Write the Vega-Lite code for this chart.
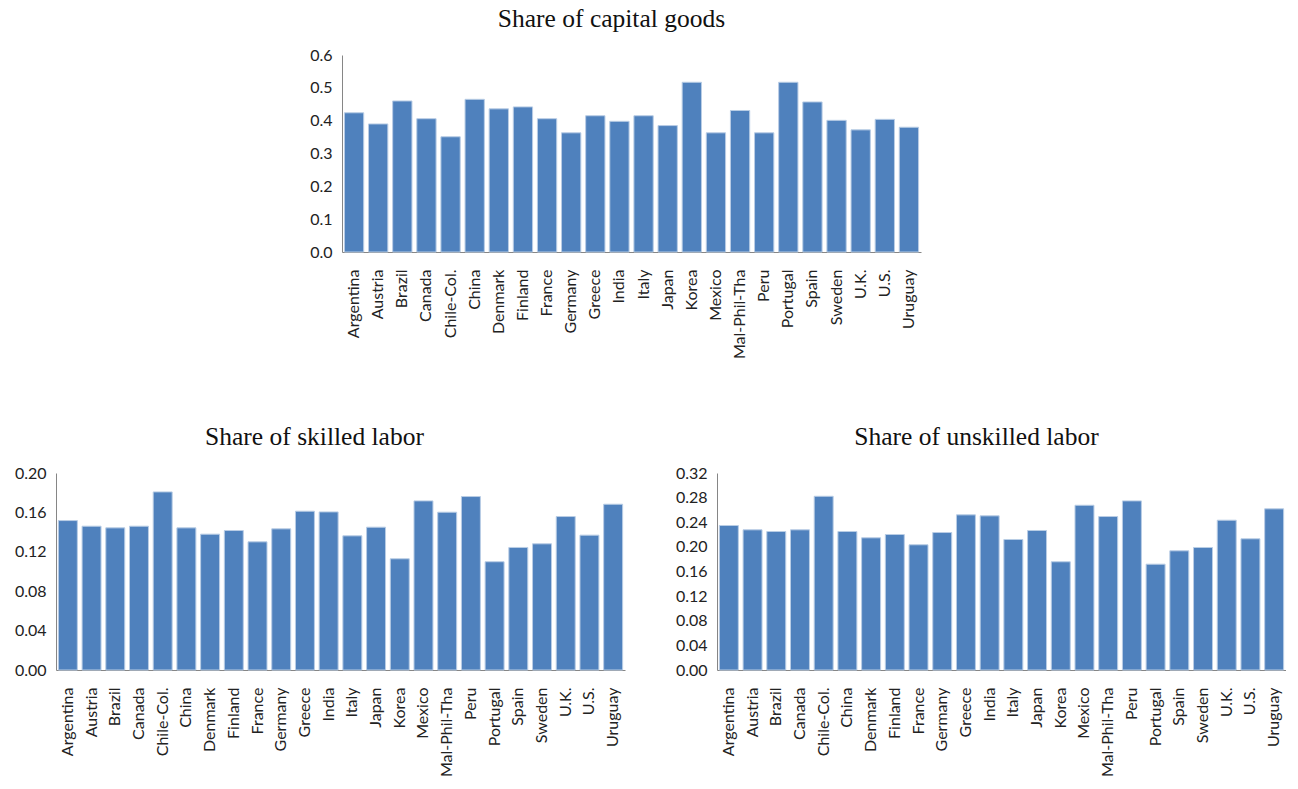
{
  "$schema": "https://vega.github.io/schema/vega-lite/v6.json",
  "padding": {"left": 7, "top": 6, "right": 0, "bottom": 0},
  "background": "white",
  "config": {
    "view": {"stroke": null},
    "font": "Lato",
    "axis": {"labelFont": "Lato", "labelFontSize": 16, "labelColor": "#222222", "domainColor": "#868686", "grid": false, "ticks": false, "title": null},
    "title": {"font": "Liberation Serif", "fontSize": 25.5, "fontWeight": "normal", "color": "#111111"},
    "bar": {"color": "#4F81BD", "stroke": "#B9CDE5", "strokeWidth": 1},
    "concat": {"spacing": 0}
  },
  "datasets": {
    "shares": [
      {"country": "Argentina", "capital": 0.424, "skilled": 0.1517, "unskilled": 0.2347},
      {"country": "Austria", "capital": 0.390, "skilled": 0.146, "unskilled": 0.2277},
      {"country": "Brazil", "capital": 0.460, "skilled": 0.1443, "unskilled": 0.225},
      {"country": "Canada", "capital": 0.406, "skilled": 0.146, "unskilled": 0.2277},
      {"country": "Chile-Col.", "capital": 0.351, "skilled": 0.1808, "unskilled": 0.2822},
      {"country": "China", "capital": 0.465, "skilled": 0.1443, "unskilled": 0.225},
      {"country": "Denmark", "capital": 0.436, "skilled": 0.1379, "unskilled": 0.2147},
      {"country": "Finland", "capital": 0.442, "skilled": 0.1416, "unskilled": 0.2201},
      {"country": "France", "capital": 0.406, "skilled": 0.1301, "unskilled": 0.2034},
      {"country": "Germany", "capital": 0.363, "skilled": 0.1433, "unskilled": 0.2233},
      {"country": "Greece", "capital": 0.415, "skilled": 0.1612, "unskilled": 0.252},
      {"country": "India", "capital": 0.398, "skilled": 0.1605, "unskilled": 0.2504},
      {"country": "Italy", "capital": 0.415, "skilled": 0.1362, "unskilled": 0.212},
      {"country": "Japan", "capital": 0.385, "skilled": 0.145, "unskilled": 0.2266},
      {"country": "Korea", "capital": 0.517, "skilled": 0.1129, "unskilled": 0.1758},
      {"country": "Mexico", "capital": 0.363, "skilled": 0.1717, "unskilled": 0.2676},
      {"country": "Mal-Phil-Tha", "capital": 0.431, "skilled": 0.1602, "unskilled": 0.2493},
      {"country": "Peru", "capital": 0.363, "skilled": 0.1761, "unskilled": 0.2747},
      {"country": "Portugal", "capital": 0.517, "skilled": 0.1099, "unskilled": 0.1719},
      {"country": "Spain", "capital": 0.457, "skilled": 0.1244, "unskilled": 0.1936},
      {"country": "Sweden", "capital": 0.401, "skilled": 0.1281, "unskilled": 0.199},
      {"country": "U.K.", "capital": 0.372, "skilled": 0.1558, "unskilled": 0.2433},
      {"country": "U.S.", "capital": 0.404, "skilled": 0.1369, "unskilled": 0.2131},
      {"country": "Uruguay", "capital": 0.380, "skilled": 0.1683, "unskilled": 0.2618}
    ]
  },
  "data": {"name": "shares"},
  "spacing": 65,
  "vconcat": [
    {
      "spacing": 0,
      "hconcat": [
        {
          "width": 246,
          "height": 197,
          "mark": {"type": "point", "opacity": 0},
          "encoding": {}
        },
        {
          "title": {"text": "Share of capital goods", "dx": -20, "offset": 15},
          "width": 579,
          "height": 197,
          "mark": "bar",
          "encoding": {
            "x": {"field": "country", "type": "nominal", "sort": null,
                  "scale": {"paddingInner": 0.2, "paddingOuter": 0.1},
                  "axis": {"labelAngle": -90, "labelPadding": 17, "minExtent": 100, "maxExtent": 100}},
            "y": {"field": "capital", "type": "quantitative",
                  "scale": {"domain": [0, 0.6], "nice": false},
                  "axis": {"values": [0, 0.1, 0.2, 0.3, 0.4, 0.5, 0.6], "format": ".1f", "labelPadding": 10, "minExtent": 40, "maxExtent": 40}}
          }
        }
      ]
    },
    {
      "spacing": 42,
      "hconcat": [
        {
          "title": {"text": "Share of skilled labor", "dx": -26, "offset": 15},
          "width": 569,
          "height": 197,
          "mark": "bar",
          "encoding": {
            "x": {"field": "country", "type": "nominal", "sort": null,
                  "scale": {"paddingInner": 0.2, "paddingOuter": 0.1},
                  "axis": {"labelAngle": -90, "labelPadding": 17}},
            "y": {"field": "skilled", "type": "quantitative",
                  "scale": {"domain": [0, 0.2], "nice": false},
                  "axis": {"values": [0, 0.04, 0.08, 0.12, 0.16, 0.2], "format": ".2f", "labelPadding": 10, "minExtent": 49, "maxExtent": 49}}
          }
        },
        {
          "title": {"text": "Share of unskilled labor", "dx": -25, "offset": 15},
          "width": 569,
          "height": 197,
          "mark": "bar",
          "encoding": {
            "x": {"field": "country", "type": "nominal", "sort": null,
                  "scale": {"paddingInner": 0.2, "paddingOuter": 0.1},
                  "axis": {"labelAngle": -90, "labelPadding": 17}},
            "y": {"field": "unskilled", "type": "quantitative",
                  "scale": {"domain": [0, 0.32], "nice": false},
                  "axis": {"values": [0, 0.04, 0.08, 0.12, 0.16, 0.2, 0.24, 0.28, 0.32], "format": ".2f", "labelPadding": 10, "minExtent": 50, "maxExtent": 50}}
          }
        }
      ]
    }
  ]
}
